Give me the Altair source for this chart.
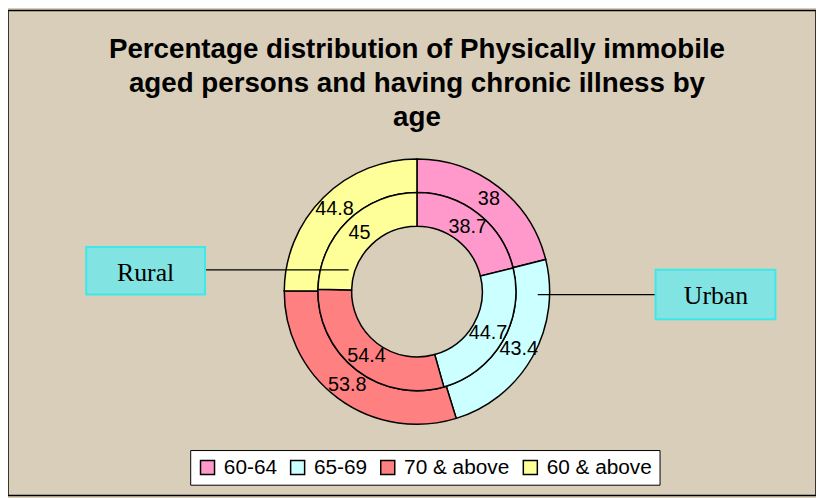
import altair as alt
import pandas as pd

AGE_GROUPS = ["60-64", "65-69", "70 & above", "60 & above"]
URBAN = [38, 43.4, 53.8, 44.8]
RURAL = [38.7, 44.7, 54.4, 45]
COLORS = ["#FF99CC", "#CCFFFF", "#FF8080", "#FFFF99"]
TITLE_LINES = [
    "Percentage distribution of Physically immobile",
    "aged persons and having chronic illness by",
    "age",
]

rows = []
for i, g in enumerate(AGE_GROUPS):
    rows.append({"area": "Urban", "age": g, "idx": i, "value": URBAN[i]})
    rows.append({"area": "Rural", "age": g, "idx": i, "value": RURAL[i]})
df = pd.DataFrame(rows)

W, H = 816, 490
CX, CY = 413, 284
FONT = "Liberation Sans"

color = alt.Color(
    "age:N",
    sort=AGE_GROUPS,
    scale=alt.Scale(domain=AGE_GROUPS, range=COLORS),
    legend=alt.Legend(
        title=None,
        orient="none",
        legendX=184,
        legendY=444,
        direction="horizontal",
        columns=4,
        fillColor="white",
        strokeColor="black",
        padding=7,
        symbolType="square",
        symbolSize=200,
        symbolStrokeColor="black",
        symbolStrokeWidth=1.5,
        symbolOpacity=1,
        labelFont=FONT,
        labelFontSize=21,
        labelColor="black",
        labelOffset=6,
        columnPadding=10,
    ),
)


def ring(area, r1, r2, rlab):
    base = alt.Chart(df).transform_filter(alt.datum.area == area)
    arc = base.mark_arc(
        radius=r1, radius2=r2, stroke="black", strokeWidth=1.5
    ).encode(
        theta=alt.Theta("value:Q", stack=True),
        order=alt.Order("idx:Q"),
        color=color,
        x=alt.value(CX),
        y=alt.value(CY),
    )
    txt = base.mark_text(
        radius=rlab, font=FONT, fontSize=20, color="black"
    ).encode(
        theta=alt.Theta("value:Q", stack=True),
        order=alt.Order("idx:Q"),
        text=alt.Text("value:Q"),
        x=alt.value(CX),
        y=alt.value(CY),
    )
    return arc, txt


uo_arc, uo_txt = ring("Urban", 134, 100, 118)
ri_arc, ri_txt = ring("Rural", 100, 66, 83)

title = alt.Chart(pd.DataFrame({"t": [0]})).mark_text(
    font=FONT, fontSize=28, fontWeight="bold", color="black",
    align="center", baseline="alphabetic", lineHeight=34.5,
).encode(
    x=alt.value(CX), y=alt.value(48), text=alt.value(TITLE_LINES)
)

callouts = pd.DataFrame({"label": ["Rural", "Urban"]})

rural_line = alt.Chart(callouts.iloc[[0]]).mark_rule(color="black", strokeWidth=1.2).encode(
    x=alt.value(199), x2=alt.value(344), y=alt.value(262)
)
urban_line = alt.Chart(callouts.iloc[[1]]).mark_rule(color="black", strokeWidth=1.2).encode(
    x=alt.value(535), x2=alt.value(654), y=alt.value(287)
)

rural_box = alt.Chart(callouts.iloc[[0]]).mark_rect(
    fill="#82E4E2", stroke="#3EE8E8", strokeWidth=2
).encode(x=alt.value(79), x2=alt.value(199), y=alt.value(239), y2=alt.value(287))
urban_box = alt.Chart(callouts.iloc[[1]]).mark_rect(
    fill="#82E4E2", stroke="#3EE8E8", strokeWidth=2
).encode(x=alt.value(654), x2=alt.value(775), y=alt.value(262), y2=alt.value(312))

rural_txt = alt.Chart(callouts.iloc[[0]]).mark_text(
    font="Liberation Serif", fontSize=26, color="black", align="center", baseline="middle"
).encode(x=alt.value(139), y=alt.value(265), text="label:N")
urban_txt = alt.Chart(callouts.iloc[[1]]).mark_text(
    font="Liberation Serif", fontSize=26, color="black", align="center", baseline="middle"
).encode(x=alt.value(715), y=alt.value(289), text="label:N")

chart = alt.layer(
    uo_arc, ri_arc, rural_line, urban_line, uo_txt, ri_txt,
    rural_box, urban_box, rural_txt, urban_txt,
    title,
).resolve_scale(theta="independent").properties(
    width=W, height=H, padding=0, autosize="none", background="#D9CEB9"
).configure_view(stroke="black", strokeWidth=1.5)

chart.save("out.html", embed_options={"renderer": "svg", "actions": False})
